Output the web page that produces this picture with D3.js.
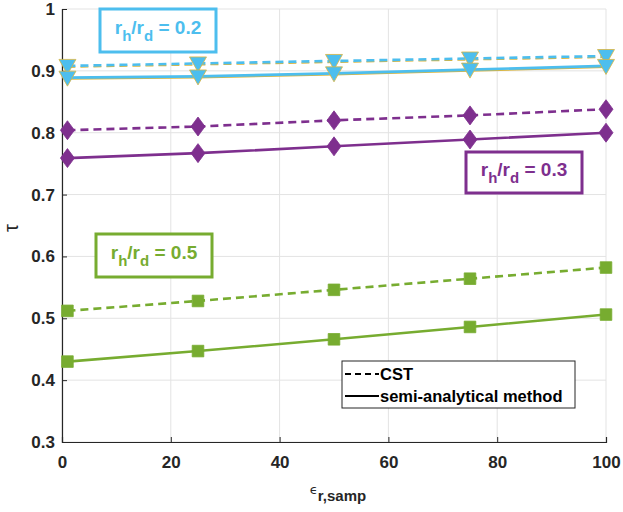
<!DOCTYPE html>
<html><head><meta charset="utf-8">
<script src="https://cdn.jsdelivr.net/npm/d3@7"></script>
<style>body{margin:0;background:#fff}svg{display:block}text{font-family:"Liberation Sans",Arial,sans-serif}</style>
</head><body><svg id="c" width="623" height="512"></svg>
<script>
const xVals = [1, 25, 50, 75, 100];
const blueCST  = [0.908, 0.912, 0.916, 0.920, 0.924];
const blueSemi = [0.889, 0.891, 0.896, 0.902, 0.908];
const purpleCST  = [0.804, 0.810, 0.820, 0.828, 0.838];
const purpleSemi = [0.759, 0.767, 0.778, 0.789, 0.800];
const greenCST  = [0.512, 0.528, 0.546, 0.564, 0.582];
const greenSemi = [0.430, 0.447, 0.466, 0.486, 0.506];
const xTicks = [0, 20, 40, 60, 80, 100];
const yTicks = [0.3, 0.4, 0.5, 0.6, 0.7, 0.8, 0.9, 1];
const boxLabels = [{ratio: "0.2", color: "#4DBEEE"}, {ratio: "0.3", color: "#7E2F8E"}, {ratio: "0.5", color: "#77AC30"}];
const legendItems = [{name: "CST", dash: "6,4"}, {name: "semi-analytical method", dash: null}];

const svg = d3.select("#c");
const L = 62, R = 606, T = 9, B = 442;
const x = d3.scaleLinear().domain([0, 100]).range([L, R]);
const y = d3.scaleLinear().domain([0.3, 1]).range([B, T]);
const ink = "#262626";

// grid
svg.append("g").selectAll("line").data(xTicks).join("line")
  .attr("x1", d => x(d)).attr("x2", d => x(d)).attr("y1", T).attr("y2", B)
  .attr("stroke", "#e3e3e3").attr("stroke-width", 1);
svg.append("g").selectAll("line").data(yTicks).join("line")
  .attr("y1", d => y(d)).attr("y2", d => y(d)).attr("x1", L).attr("x2", R)
  .attr("stroke", "#e3e3e3").attr("stroke-width", 1);

// axes
const xa = svg.append("g").attr("transform", `translate(0,${B})`)
  .call(d3.axisBottom(x).tickValues(xTicks).tickSize(-5).tickPadding(10).tickFormat(d3.format("d")));
const ya = svg.append("g").attr("transform", `translate(${L},0)`)
  .call(d3.axisLeft(y).tickValues(yTicks).tickSize(-5).tickPadding(7).tickFormat(d => d === 1 ? "1" : d3.format(".1f")(d)));
[xa, ya].forEach(a => {
  a.select(".domain").attr("stroke", ink).attr("stroke-width", 1.2);
  a.selectAll(".tick line").attr("stroke", ink);
  a.selectAll("text").attr("fill", ink).attr("font-size", 17).attr("font-weight", "bold");
});
xa.selectAll("text").attr("dy", "0.95em");

// lines
const line = d3.line().x((d, i) => x(xVals[i])).y(d => y(d));
function series(vals, color, dash, marker, edge) {
  if (edge) {
    svg.append("path").datum(vals).attr("d", line).attr("fill", "none")
      .attr("stroke", edge).attr("stroke-width", 1.4).attr("transform", "translate(0,1.4)")
      .attr("stroke-dasharray", dash);
  }
  svg.append("path").datum(vals).attr("d", line).attr("fill", "none")
    .attr("stroke", color).attr("stroke-width", 2.6).attr("stroke-dasharray", dash);
  svg.append("g").selectAll("path").data(vals).join("path")
    .attr("transform", (d, i) => `translate(${x(xVals[i])},${y(d)})`)
    .attr("d", marker)
    .attr("fill", color).attr("stroke", edge || color).attr("stroke-width", edge ? 0.8 : 0.8);
}
const tri = "M-8.5,-6.5L8.5,-6.5L0,8.5Z";
const dia = "M0,-9.5L7,0L0,9.5L-7,0Z";
const sq = "M-5.8,-5.8H5.8V5.8H-5.8Z";
series(greenCST, "#77AC30", "8,5", sq);
series(greenSemi, "#77AC30", null, sq);
series(purpleCST, "#7E2F8E", "8,5", dia);
series(purpleSemi, "#7E2F8E", null, dia);
series(blueCST, "#4DBEEE", "8,5", tri, "#D9B540");
series(blueSemi, "#4DBEEE", null, tri, "#D9B540");

// annotation boxes
const boxPos = [[100, 9, 116, 43], [466, 152, 116, 41], [96, 234, 116, 43]];
boxLabels.forEach((b, i) => {
  const [bx, by, bw, bh] = boxPos[i];
  svg.append("rect").attr("x", bx).attr("y", by).attr("width", bw).attr("height", bh)
    .attr("fill", "#fff").attr("stroke", b.color).attr("stroke-width", 3);
  const t = svg.append("text").attr("x", bx + bw / 2).attr("y", by + bh / 2 + 3)
    .attr("text-anchor", "middle").attr("fill", b.color)
    .attr("font-size", 19).attr("font-weight", "bold");
  t.append("tspan").text("r");
  t.append("tspan").attr("font-size", 15).attr("dy", 7).text("h");
  t.append("tspan").attr("dy", -7).text("/r");
  t.append("tspan").attr("font-size", 15).attr("dy", 7).text("d");
  t.append("tspan").attr("dy", -7).text(" = " + b.ratio);
});

// legend
const lg = svg.append("g");
lg.append("rect").attr("x", 342).attr("y", 361).attr("width", 233).attr("height", 47)
  .attr("fill", "#fff").attr("stroke", ink).attr("stroke-width", 1);
legendItems.forEach((it, i) => {
  const ly = 374 + i * 22;
  lg.append("line").attr("x1", 345).attr("x2", 379).attr("y1", ly).attr("y2", ly)
    .attr("stroke", "#000").attr("stroke-width", 2).attr("stroke-dasharray", it.dash);
  lg.append("text").attr("x", 380).attr("y", ly + 6).attr("font-size", 16.5)
    .attr("font-weight", "bold").attr("fill", "#000").text(it.name);
});

// axis labels
const xl = svg.append("text").attr("x", 338).attr("y", 494).attr("text-anchor", "middle")
  .attr("fill", ink).attr("font-size", 15).attr("font-weight", "bold");
xl.append("tspan").attr("font-weight", "normal").attr("font-family", "DejaVu Sans").attr("font-size", 13).text("ϵ");
xl.append("tspan").attr("dy", 7).attr("font-size", 15).text("r,samp");
svg.append("text").attr("transform", "translate(18,228) rotate(-90)").attr("text-anchor", "middle")
  .attr("fill", ink).attr("font-size", 20).attr("font-family", "DejaVu Sans").text("τ");
</script></body></html>
